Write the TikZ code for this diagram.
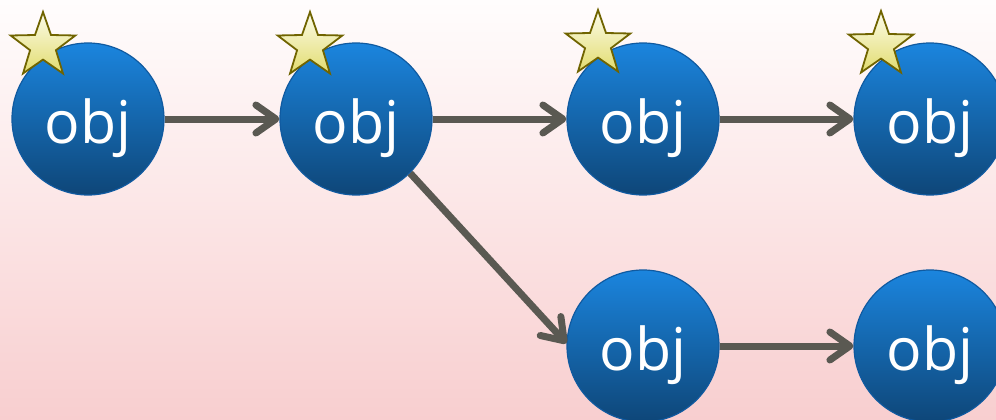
\documentclass[tikz,border=0pt]{standalone}
\usepackage{fontspec}
\newfontfamily\objfont{Open Sans}
\usetikzlibrary{shapes.geometric,arrows.meta}
\definecolor{bgtop}{RGB}{255,253,253}
\definecolor{bgbot}{RGB}{248,206,207}
\definecolor{objtop}{RGB}{27,133,222}
\definecolor{objbot}{RGB}{14,70,120}
\definecolor{objborder}{RGB}{16,90,160}
\definecolor{arrowc}{RGB}{90,89,82}
\definecolor{startop}{RGB}{252,252,235}
\definecolor{starbot}{RGB}{226,220,110}
\definecolor{starborder}{RGB}{112,100,0}
\begin{document}
\begin{tikzpicture}[x=1pt,y=-1pt,
  obj/.style={circle, minimum size=152pt, inner sep=0pt, draw=objborder, line width=1.2pt,
    top color=objtop, bottom color=objbot, text=white,
    font=\objfont\fontsize{59}{60}\selectfont, text height=48pt, text depth=0pt},
  badge/.style={star, star points=5, star point ratio=2.5, minimum size=68pt, inner sep=0pt,
    draw=starborder, line width=1.8pt, top color=startop, bottom color=starbot},
  link/.style={draw=arrowc, line width=7pt, -{Straight Barb[length=20pt,width=28pt,round]}}]
\useasboundingbox (0,0) rectangle (996,420);
\clip (0,0) rectangle (996,420);
\fill[top color=bgtop, bottom color=bgbot] (0,0) rectangle (996,420);
\node[obj] (c1) at (88,119) {obj};
\node[obj] (c2) at (356,119) {obj};
\node[obj] (c3) at (643,119) {obj};
\node[obj] (c4) at (930,119) {obj};
\node[obj] (c5) at (643,346) {obj};
\node[obj] (c6) at (930,346) {obj};
\draw[link] (c1) -- (c2);
\draw[link] (c2) -- (c3);
\draw[link] (c3) -- (c4);
\draw[link] (c2.south east) -- (c5.178);
\draw[link] (c5) -- (c6);
\node[badge] (s1) at (43,46) {};
\node[badge] (s2) at (310,46) {};
\node[badge] (s3) at (598,44) {};
\node[badge] (s4) at (881,45) {};
\end{tikzpicture}
\end{document}
